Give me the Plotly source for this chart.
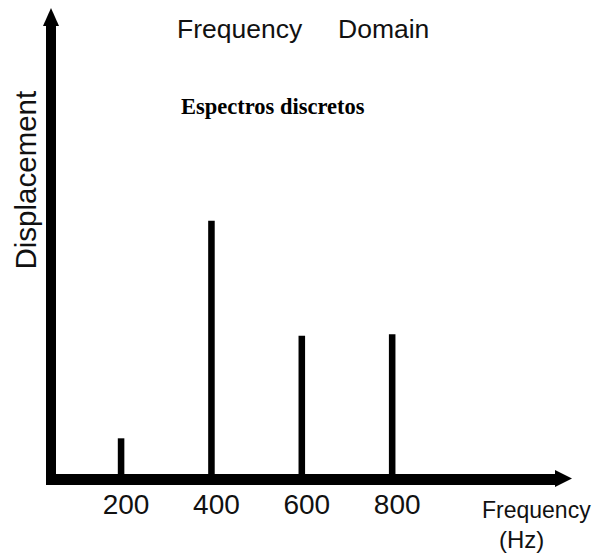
import plotly.graph_objects as go

# ---- data ----
frequencies = [200, 400, 600, 800]          # Hz
displacement = [0.164, 1.0, 0.558, 0.564]   # relative amplitude
tick_labels = ["200", "400", "600", "800"]

W, H = 593, 557
L, R, T, B = 51, 21, 8, 76
pw, ph = W - L - R, H - T - B


def px(x):
    return (x - L) / pw


def py(y):
    return (H - B - y) / ph


fig = go.Figure()
fig.add_trace(go.Bar(
    x=frequencies, y=displacement, width=14.5,
    marker=dict(color="black", line=dict(width=0)),
    showlegend=False, hoverinfo="x+y",
))

sans = "Liberation Sans, Arial, sans-serif"

shapes = [
    # horizontal axis bar
    dict(type="rect", xref="paper", yref="paper",
         x0=px(46), x1=px(558), y0=py(485), y1=py(474),
         fillcolor="black", line=dict(width=0), layer="above"),
    # horizontal arrow head
    dict(type="path", xref="paper", yref="paper",
         path=f"M {px(555)},{py(470)} L {px(572)},{py(478.5)} L {px(555)},{py(487)} Z",
         fillcolor="black", line=dict(width=0), layer="above"),
    # vertical axis bar
    dict(type="rect", xref="paper", yref="paper",
         x0=px(46), x1=px(56), y0=py(485), y1=py(24),
         fillcolor="black", line=dict(width=0), layer="above"),
    # vertical arrow head
    dict(type="path", xref="paper", yref="paper",
         path=f"M {px(43)},{py(26)} L {px(51)},{py(8)} L {px(59)},{py(26)} Z",
         fillcolor="black", line=dict(width=0), layer="above"),
]

annotations = [
    dict(text="Frequency", x=px(239.5), y=py(29), xref="paper", yref="paper",
         showarrow=False, xanchor="center", yanchor="middle",
         font=dict(family=sans, size=26.5, color="#111")),
    dict(text="Domain", x=px(383.5), y=py(29), xref="paper", yref="paper",
         showarrow=False, xanchor="center", yanchor="middle",
         font=dict(family=sans, size=26.5, color="#111")),
    dict(text="<b>Espectros discretos</b>", x=px(273.3), y=py(106), xref="paper", yref="paper",
         showarrow=False, xanchor="center", yanchor="middle",
         font=dict(family="Liberation Serif, Times New Roman, serif", size=22.5, color="black")),
    dict(text="Displacement", x=px(24.5), y=py(180), xref="paper", yref="paper",
         showarrow=False, xanchor="center", yanchor="middle", textangle=-90,
         font=dict(family=sans, size=29.5, color="#111")),
    dict(text="Frequency", x=px(536), y=py(510), xref="paper", yref="paper",
         showarrow=False, xanchor="center", yanchor="middle",
         font=dict(family=sans, size=23, color="#111")),
    dict(text="(Hz)", x=px(521), y=py(539.5), xref="paper", yref="paper",
         showarrow=False, xanchor="center", yanchor="middle",
         font=dict(family=sans, size=24, color="#111")),
]

fig.update_layout(
    width=W, height=H,
    margin=dict(l=L, r=R, t=T, b=B, pad=0),
    paper_bgcolor="white", plot_bgcolor="white",
    shapes=shapes, annotations=annotations,
    xaxis=dict(range=[44.9, 1198], tickvals=frequencies, ticktext=tick_labels,
               showgrid=False, zeroline=False, showline=False, ticks="",
               tickfont=dict(family=sans, size=28, color="#111"),
               ticklabelshift=5, ticklabelstandoff=4, fixedrange=True),
    yaxis=dict(range=[0, 473 / 260.3], showticklabels=False, showgrid=False,
               zeroline=False, showline=False, ticks="", fixedrange=True),
)

fig.write_html(
    "out.html",
    config={"displayModeBar": False},
    post_script="document.body.style.margin='0';document.body.style.overflow='hidden';",
)
